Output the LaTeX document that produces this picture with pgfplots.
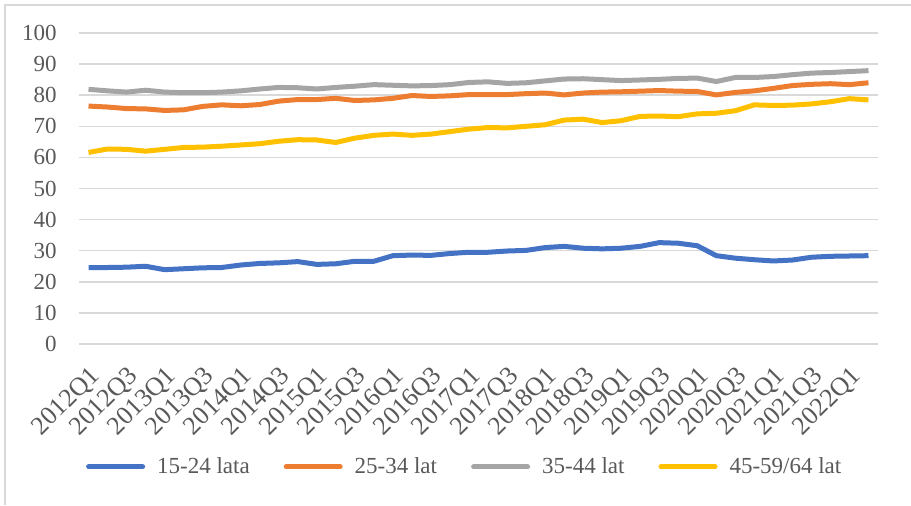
\documentclass[border=0pt]{standalone}
\usepackage{fontspec}
\setmainfont{Liberation Serif}
\usepackage{pgfplots}
\pgfplotsset{compat=1.18}
\usepackage{pgfplotstable}
\definecolor{cblue}{RGB}{68,114,196}
\definecolor{corange}{RGB}{237,125,49}
\definecolor{cgray}{RGB}{165,165,165}
\definecolor{cyellow}{RGB}{255,192,0}
\definecolor{gridc}{RGB}{217,217,217}
\definecolor{labc}{RGB}{89,89,89}
\pgfplotstableread{
q blue orange gray yellow
0 24.6 76.5 81.9 61.6
1 24.6 76.2 81.4 62.7
2 24.7 75.7 81.0 62.6
3 25.0 75.6 81.6 62.0
4 23.9 75.1 81.0 62.6
5 24.2 75.3 80.8 63.2
6 24.5 76.4 80.8 63.3
7 24.6 76.9 81.0 63.6
8 25.4 76.6 81.4 64.0
9 25.9 77.0 82.0 64.4
10 26.1 78.1 82.5 65.2
11 26.5 78.6 82.4 65.7
12 25.6 78.6 82.0 65.6
13 25.8 79.0 82.5 64.8
14 26.6 78.3 82.9 66.2
15 26.6 78.5 83.4 67.1
16 28.4 79.0 83.2 67.5
17 28.6 79.9 83.0 67.1
18 28.5 79.6 83.1 67.5
19 29.1 79.8 83.4 68.3
20 29.5 80.2 84.1 69.1
21 29.5 80.2 84.3 69.6
22 29.9 80.2 83.8 69.5
23 30.1 80.5 84.0 70.0
24 31.0 80.7 84.6 70.5
25 31.4 80.1 85.2 72.0
26 30.8 80.7 85.3 72.3
27 30.6 81.0 85.0 71.2
28 30.8 81.1 84.7 71.8
29 31.4 81.3 84.9 73.2
30 32.6 81.5 85.1 73.3
31 32.4 81.3 85.4 73.1
32 31.6 81.2 85.5 74.0
33 28.4 80.1 84.4 74.2
34 27.6 80.9 85.7 75.0
35 27.1 81.4 85.7 76.9
36 26.7 82.2 86.0 76.7
37 27.0 83.1 86.6 76.8
38 27.9 83.5 87.1 77.2
39 28.2 83.7 87.3 77.9
40 28.3 83.4 87.6 78.9
41 28.4 84.0 87.9 78.5
}\data
\begin{document}
\begin{tikzpicture}
\useasboundingbox (0,0) rectangle (455.5pt,-252.5pt);
\draw[gridc, line width=0.75pt] (2.4pt,-252.5pt) -- (2.4pt,-2.4pt) -- (455.5pt,-2.4pt);
\begin{axis}[
  at={(39.5pt,-172pt)}, anchor=south west,
  scale only axis, width=399.5pt, height=155.5pt,
  xmin=-0.5, xmax=41.5, ymin=0, ymax=100,
  ytick={0,10,...,100},
  xtick={0,2,...,40},
  xticklabels={2012Q1,2012Q3,2013Q1,2013Q3,2014Q1,2014Q3,2015Q1,2015Q3,2016Q1,2016Q3,2017Q1,2017Q3,2018Q1,2018Q3,2019Q1,2019Q3,2020Q1,2020Q3,2021Q1,2021Q3,2022Q1},
  ymajorgrids,
  grid style={gridc, line width=0.75pt},
  axis line style={draw=none},
  major tick length=0pt,
  /pgf/number format/assume math mode=true,
  tick label style={text=labc},
  yticklabel style={font=\fontsize{11.5}{13}\selectfont, anchor=east, inner sep=0pt, xshift=-11pt},
  xticklabel style={font=\fontsize{13}{15}\selectfont, rotate=45, anchor=north east, inner sep=0pt},
  xticklabel shift=10pt,
  legend style={at={(0.484,-0.395)}, anchor=center, draw=none, fill=none,
    legend columns=4, font=\fontsize{11.5}{13}\selectfont, text=labc,
    /tikz/every odd column/.append style={column sep=4pt},
    /tikz/every even column/.append style={column sep=15pt}},
  legend image code/.code={\draw[#1, line cap=round] (0pt,0pt) -- (27pt,0pt);},
  every axis plot/.append style={line width=2.5pt, line join=round},
]
\addplot[cblue] table[x=q,y=blue]{\data};
\addplot[corange] table[x=q,y=orange]{\data};
\addplot[cgray] table[x=q,y=gray]{\data};
\addplot[cyellow] table[x=q,y=yellow]{\data};
\legend{15-24 lata,25-34 lat,35-44 lat,45-59/64 lat}
\end{axis}
\end{tikzpicture}
\end{document}
